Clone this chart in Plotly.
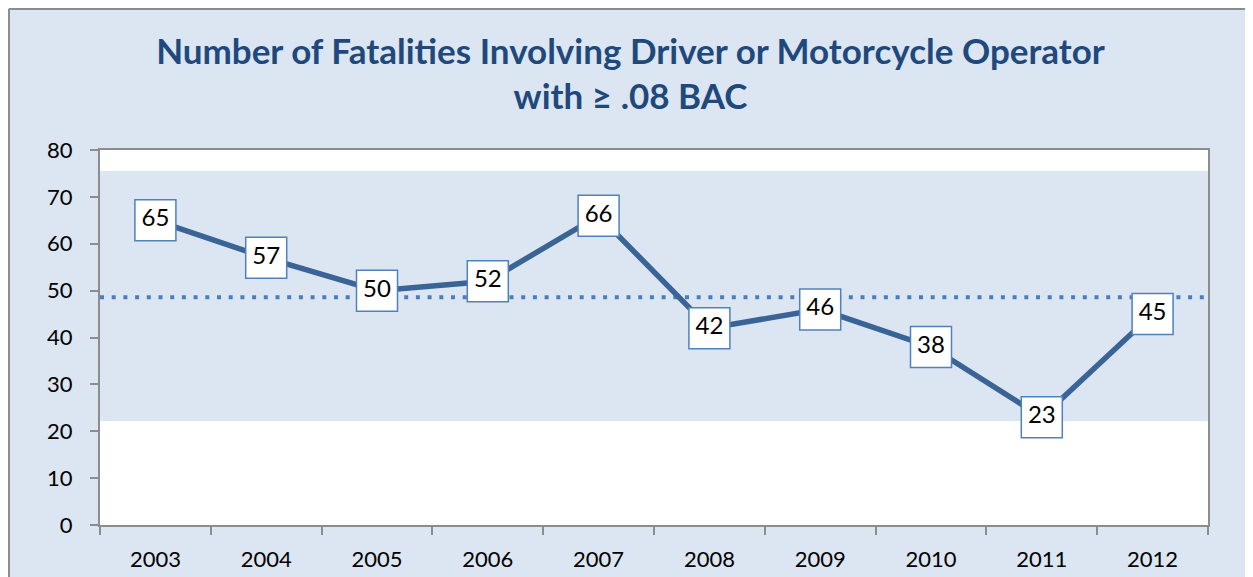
import plotly.graph_objects as go

years = ["2003", "2004", "2005", "2006", "2007", "2008", "2009", "2010", "2011", "2012"]
fatalities = [65, 57, 50, 52, 66, 42, 46, 38, 23, 45]
average_value = 48.6
band_low = 22.2
band_high = 75.5
y_ticks = [0, 10, 20, 30, 40, 50, 60, 70, 80]

BG = "#DCE6F2"
LINE = "#3B6496"
DOT = "#4A7EBB"
AXIS = "#8C8C8C"
FONT = "Lato, Carlito, Calibri, sans-serif"

fig = go.Figure()
fig.add_trace(go.Scatter(
    x=years, y=fatalities, mode="lines",
    line=dict(color=LINE, width=5.5),
    hoverinfo="skip", showlegend=False,
))
fig.add_trace(go.Scatter(
    x=years, y=fatalities, mode="markers+text",
    text=[str(v) for v in fatalities], textposition="middle center",
    textfont=dict(family=FONT, size=24, color="black"),
    marker=dict(symbol="square", size=41, color="white",
                line=dict(color="#4F81BD", width=1.5)),
    hoverinfo="skip", showlegend=False, cliponaxis=False,
))

PLOT_W = 1108.0
PLOT_H = 375.0
ML, MT = 92, 142

shapes = [
    dict(type="rect", xref="x domain", yref="y", x0=0, x1=1, y0=band_low, y1=band_high,
         fillcolor=BG, line=dict(width=0), layer="below"),
    dict(type="line", xref="x domain", yref="y", x0=0, x1=1, y0=average_value, y1=average_value,
         line=dict(color=DOT, width=4, dash="4px,7.7px"), layer="below"),
    # outer chart border (top and left visible)
    dict(type="line", xref="paper", yref="paper",
         x0=-(ML - 1) / PLOT_W, x1=-(ML - 1) / PLOT_W, y0=-0.3, y1=1 + (MT - 1) / PLOT_H,
         line=dict(color=AXIS, width=2), layer="above"),
    dict(type="line", xref="paper", yref="paper",
         x0=-(ML - 1) / PLOT_W, x1=1.2, y0=1 + (MT - 1) / PLOT_H, y1=1 + (MT - 1) / PLOT_H,
         line=dict(color=AXIS, width=2), layer="above"),
]

fig.update_layout(
    width=1245, height=569,
    margin=dict(l=ML, r=45, t=MT, b=52, autoexpand=False),
    paper_bgcolor=BG, plot_bgcolor="white",
    title=dict(
        text="<b>Number of Fatalities Involving Driver or Motorcycle Operator<br>with ≥ .08 BAC</b>",
        x=0.5, xanchor="center", y=0.902, yanchor="top",
        font=dict(family=FONT, size=35, color="#1F497D"),
    ),
    shapes=shapes,
    xaxis=dict(
        type="category", range=[-0.5, 9.5], tickson="boundaries",
        ticks="outside", ticklen=8, tickcolor=AXIS, tickwidth=2,
        showline=True, linecolor=AXIS, linewidth=2, mirror=True,
        showgrid=False, tickfont=dict(family=FONT, size=22, color="black"),
        ticklabelstandoff=14, automargin=False,
    ),
    yaxis=dict(
        range=[0, 80], tickvals=y_ticks, ticks="outside", ticklen=8,
        tickcolor=AXIS, tickwidth=2,
        showline=True, linecolor=AXIS, linewidth=2, mirror=True,
        showgrid=False, zeroline=False,
        tickfont=dict(family=FONT, size=22, color="black"),
        ticklabelstandoff=13, automargin=False,
    ),
)

fig.write_html("out.html")
